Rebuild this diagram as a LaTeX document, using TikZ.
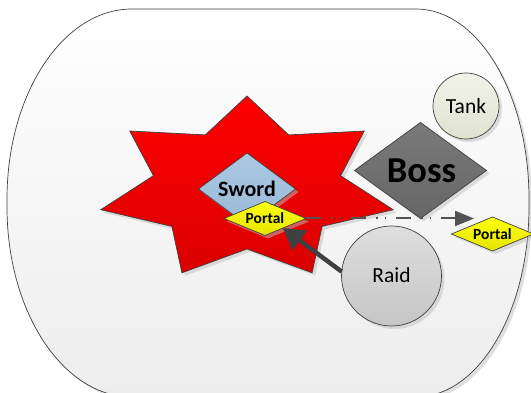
\documentclass[tikz,border=0pt]{standalone}
\usepackage{fontspec}
\setmainfont{Carlito}
\usetikzlibrary{shapes.geometric,arrows.meta,shadows}
\definecolor{linegray}{HTML}{404040}
\definecolor{starTop}{HTML}{FF0000}
\definecolor{starBot}{HTML}{DA0000}
\definecolor{swordTop}{HTML}{ABC9E3}
\definecolor{swordBot}{HTML}{98B8D6}
\definecolor{portTop}{HTML}{FFFF10}
\definecolor{portBot}{HTML}{E4E400}
\definecolor{bossTop}{HTML}{7A7A7A}
\definecolor{bossBot}{HTML}{666666}
\definecolor{tankTop}{HTML}{F1F3E8}
\definecolor{tankBot}{HTML}{E0E3D0}
\definecolor{raidTop}{HTML}{DEDEDE}
\definecolor{raidBot}{HTML}{C6C6C6}
\definecolor{outerBot}{HTML}{EDEDED}
\tikzset{
  shad/.style={drop shadow={shadow xshift=3pt, shadow yshift=-3pt, fill=black!25, opacity=0.5}},
  edge/.style={draw=linegray, line width=0.7pt},
  dia/.style={shape=diamond, edge, shad, inner sep=0pt, outer sep=0pt},
  circ/.style={shape=circle, edge, shad, inner sep=0pt, outer sep=0pt},
  portalbox/.style={dia, top color=portTop, bottom color=portBot,
    minimum width=82pt, minimum height=34pt,
    label={[font=\fontsize{15.5}{15.5}\selectfont\bfseries]center:Portal}},
  dasharrow/.style={draw=linegray!90!white, line width=2pt,
    dash pattern=on 15pt off 10pt on 1.5pt off 7pt on 1.5pt off 10pt,
    -{Triangle[length=19pt,width=15pt]}},
  bigarrow/.style={draw=linegray, line width=4.5pt,
    -{Triangle[length=21pt,width=24pt]}},
}
\begin{document}
\begin{tikzpicture}[x=1pt,y=-1pt]
\useasboundingbox (0,0) rectangle (531,393);
% outer container
\path[edge, shad, top color=white, bottom color=outerBot]
  (132,9) -- (416,9)
  arc[start angle=-90, end angle=0, x radius=113, y radius=190]
  -- (529,207)
  arc[start angle=0, end angle=90, x radius=113, y radius=190]
  -- (132,397)
  arc[start angle=90, end angle=180, x radius=125, y radius=190]
  -- (7,199)
  arc[start angle=180, end angle=270, x radius=125, y radius=190]
  -- cycle;
% seven-pointed star
\path[edge, shad, top color=starTop, bottom color=starBot]
  (247,96) -- (288.7,134.9) -- (364.3,131) -- (340.6,175.7) -- (393.2,209.7)
  -- (322.1,226.4) -- (312.1,272.8) -- (247,249) -- (181.9,272.8)
  -- (171.9,226.4) -- (100.8,209.7) -- (153.4,175.7) -- (129.7,131)
  -- (205.3,134.9) -- cycle;
% nodes
\node[dia, top color=swordTop, bottom color=swordBot,
  minimum width=97pt, minimum height=72pt,
  label={[font=\fontsize{22}{22}\selectfont\bfseries]center:Sword}]
  (sword) at (247,189) {};
\node[dia, top color=bossTop, bottom color=bossBot,
  minimum width=132pt, minimum height=96pt,
  label={[font=\fontsize{36.5}{36.5}\selectfont\bfseries, xshift=1pt]center:Boss}]
  (boss) at (420.5,170.5) {};
\node[circ, top color=tankTop, bottom color=tankBot, minimum size=66pt,
  font=\fontsize{21.5}{21.5}\selectfont] (tank) at (466,106) {Tank};
\node[circ, top color=raidTop, bottom color=raidBot, minimum size=100pt,
  font=\fontsize{21.5}{21.5}\selectfont] (raid) at (391.5,276) {\raisebox{2pt}{Raid}};
\node[portalbox] (portalA) at (265,218.5) {};
\node[portalbox] (portalB) at (492.5,234) {};
\coordinate (dashend) at (474,218.5);
% connectors
\draw[dasharrow] (portalA.east) -- (dashend);
\draw[bigarrow] (raid.175) -- (portalA.-28);
\end{tikzpicture}
\end{document}
